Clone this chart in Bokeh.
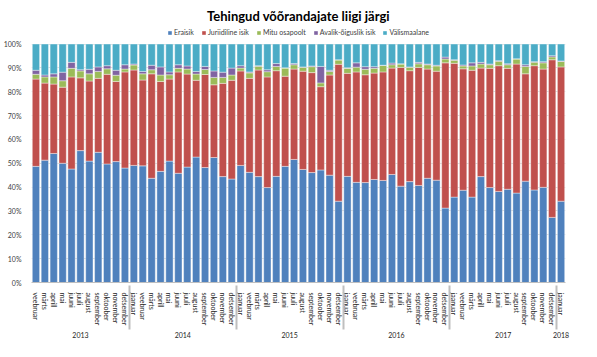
from bokeh.plotting import figure
from bokeh.models import (ColumnDataSource, FactorRange, Range1d, FixedTicker,
                          PrintfTickFormatter, Legend, LegendItem)
from bokeh.embed import file_html
from bokeh.resources import INLINE

FONT = "Lato"

month_names = ["jaanuar", "veebruar", "märts", "aprill", "mai", "juuni", "juuli",
               "august", "september", "oktoober", "november", "detsember"]
years = ["2013", "2014", "2015", "2016", "2017", "2018"]
year_months = {
    "2013": month_names[1:],
    "2014": month_names,
    "2015": month_names,
    "2016": month_names,
    "2017": month_names,
    "2018": month_names[:1],
}

series_names = ["Eraisik", "Juriidiline isik", "Mitu osapoolt", "Avalik-õiguslik isik", "Välismaalane"]
colors = ["#4F81BD", "#C0504D", "#9BBB59", "#8064A2", "#4BACC6"]

eraisik = [48.7, 51.3, 54.1, 50.0, 47.6, 55.3, 50.9, 54.6, 49.7, 50.7,
           48.0, 49.1, 48.9, 43.7, 46.6, 50.9, 45.8, 48.4, 52.6, 48.2,
           52.4, 44.4, 43.4, 49.1, 46.2, 44.4, 39.8, 44.5, 48.7, 51.6,
           47.4, 46.1, 47.2, 45.0, 34.1, 44.5, 42.0, 41.9, 43.2, 42.8,
           45.3, 40.4, 42.3, 40.7, 43.7, 42.9, 31.2, 35.8, 38.7, 35.8,
           44.4, 39.8, 38.2, 39.1, 37.5, 42.5, 38.8, 39.9, 27.3, 34.1]
juriidiline = [36.6, 32.3, 29.1, 31.9, 38.6, 30.5, 33.6, 31.0, 37.6, 33.6,
               40.3, 40.0, 36.0, 43.8, 37.7, 34.4, 42.5, 39.0, 32.2, 39.0,
               30.5, 39.1, 41.4, 39.6, 39.4, 44.7, 46.4, 44.3, 37.8, 37.9,
               41.2, 41.9, 34.9, 42.0, 57.4, 43.2, 46.3, 45.2, 44.6, 45.5,
               44.6, 49.8, 46.5, 49.5, 45.8, 45.7, 60.9, 56.1, 50.9, 53.2,
               45.5, 50.0, 52.7, 50.7, 54.1, 45.0, 52.1, 49.6, 66.1, 56.3]
mitu = [2.0, 2.6, 3.0, 2.7, 3.6, 2.9, 3.0, 2.9, 2.3, 2.6,
        1.2, 2.1, 2.6, 1.7, 2.7, 1.8, 1.5, 2.1, 2.6, 2.1,
        3.1, 2.5, 2.2, 1.2, 2.3, 1.6, 2.2, 1.8, 3.4, 1.8,
        1.7, 2.5, 1.6, 1.5, 1.8, 2.1, 2.0, 2.3, 2.0, 2.7,
        1.4, 1.4, 1.5, 1.5, 1.8, 2.2, 1.6, 1.3, 1.2, 1.8,
        1.7, 1.5, 1.9, 1.5, 2.1, 3.1, 1.5, 2.6, 1.2, 2.3]
avalik = [1.7, 0.8, 1.3, 3.6, 2.5, 0.5, 1.9, 1.9, 1.3, 2.1,
          1.8, 0.4, 1.0, 1.9, 3.4, 1.2, 1.5, 1.3, 1.1, 1.3,
          2.7, 2.2, 2.9, 1.0, 0.4, 0.2, 0.8, 1.2, 0.1, 0.5,
          0.1, 0.3, 6.9, 0.5, 0.1, 0.2, 1.8, 1.1, 0.7, 0.1,
          0.7, 0.1, 0.1, 0.6, 0.3, 0.3, 0.8, 0.2, 0.4, 1.3,
          0.7, 0.3, 0.2, 0.4, 0.1, 0.7, 0.2, 0.5, 0.5, 0.2]
valismaalane = [11.0, 13.0, 12.5, 11.8, 7.7, 10.8, 10.6, 9.6, 9.1, 11.0,
                8.7, 8.4, 11.5, 8.9, 9.6, 11.7, 8.7, 9.2, 11.5, 9.4,
                11.3, 11.8, 10.1, 9.1, 11.7, 9.1, 10.8, 8.2, 10.0, 8.2,
                9.6, 9.2, 9.4, 11.0, 6.6, 10.0, 7.9, 9.5, 9.5, 8.9,
                8.0, 8.3, 9.6, 7.7, 8.4, 8.9, 5.5, 6.6, 8.8, 7.9,
                7.7, 8.4, 7.0, 8.3, 6.2, 8.7, 7.4, 7.4, 4.9, 7.1]

y_ticks = [0, 10, 20, 30, 40, 50, 60, 70, 80, 90, 100]

factors = [(y, m) for y in years for m in year_months[y]]
keys = ["s0", "s1", "s2", "s3", "s4"]
source = ColumnDataSource(data=dict(x=factors, s0=eraisik, s1=juriidiline, s2=mitu,
                                    s3=avalik, s4=valismaalane))

p = figure(x_range=FactorRange(*factors, factor_padding=0, group_padding=0, subgroup_padding=0),
           y_range=Range1d(0, 106.5), width=581, height=341,
           output_backend="svg", toolbar_location=None,
           min_border_left=22, min_border_right=16, min_border_top=24, min_border_bottom=0)
p.outline_line_color = None
p.background_fill_color = "white"
p.border_fill_color = "white"

p.title.text = "Tehingud võõrandajate liigi järgi"
p.title.align = "center"
p.title.text_font = FONT
p.title.text_font_size = "13px"
p.title.text_font_style = "bold"
p.title.text_color = "#000000"

rs = p.vbar_stack(keys, x="x", width=0.82, color=colors, line_color="white",
                  line_width=0.4, source=source)

legend = Legend(items=[LegendItem(label=nm, renderers=[r]) for nm, r in zip(series_names, rs)],
                orientation="horizontal", location="top_center",
                label_text_font=FONT, label_text_font_size="7px", label_text_color="#404040",
                glyph_width=5, glyph_height=5, label_standoff=2, spacing=7,
                padding=1, margin=0, border_line_color=None, background_fill_alpha=0,
                label_height=8)
p.add_layout(legend)

# y axis
p.yaxis.ticker = FixedTicker(ticks=y_ticks)
p.yaxis.formatter = PrintfTickFormatter(format="%d%%")
p.yaxis.major_label_text_font = FONT
p.yaxis.major_label_text_font_size = "7px"
p.yaxis.major_label_text_color = "#404040"
p.yaxis.axis_line_color = None
p.yaxis.major_tick_line_color = None
p.yaxis.minor_tick_line_color = None
p.yaxis.major_label_standoff = 4

p.ygrid.ticker = FixedTicker(ticks=y_ticks)
p.ygrid.grid_line_color = "#D9D9D9"
p.xgrid.grid_line_color = None

# categorical x axis: months with year groups below
xa = p.xaxis[0]
xa.major_label_orientation = "vertical"
xa.major_label_text_font = FONT
xa.major_label_text_font_size = "7px"
xa.major_label_text_color = "#262626"
xa.group_text_font = FONT
xa.group_text_font_size = "7px"
xa.group_text_color = "#262626"
xa.group_text_font_style = "normal"
xa.major_tick_line_color = None
xa.axis_line_color = "#BFBFBF"
xa.separator_line_color = "#BFBFBF"
xa.major_label_standoff = 4
xa.group_label_orientation = "horizontal"

open("out.html", "w").write(file_html(p, INLINE))
